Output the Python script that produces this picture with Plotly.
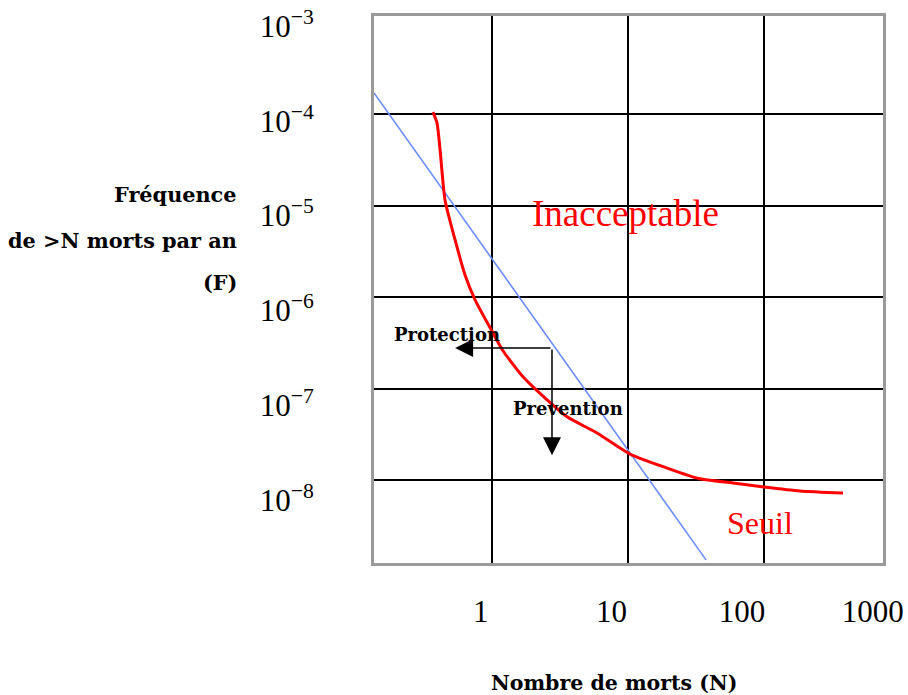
import numpy as np
import plotly.graph_objects as go

# ---------------- data ----------------
# Courbe "Seuil" (nombre de morts N, fréquence F)
N_seuil = [0.368, 0.394, 0.415, 0.451, 0.535, 0.633, 0.750, 1.02, 1.20, 1.69,
           2.54, 3.56, 5.91, 10.35, 19.4, 33.8, 59.2, 100, 184, 381]
F_seuil = [1.05e-4, 7.97e-5, 4.04e-5, 1.15e-5, 4.2e-6, 1.74e-6, 9.3e-7, 4.0e-7,
           2.6e-7, 1.34e-7, 7.5e-8, 4.9e-8, 3.27e-8, 1.92e-8, 1.35e-8, 1.03e-8,
           9.3e-9, 8.4e-9, 7.6e-9, 7.2e-9]

# Droite bleue
N_droite = [0.1355, 37.5]
F_droite = [1.7e-4, 1.34e-9]

# Flèches protection / prévention (coin, pointes)
N_coin, F_coin = 2.76, 2.77e-7
N_protection = 0.535
F_prevention = 1.87e-8

# Graduations
x_grid = [1, 10, 100]
y_grid = [1e-4, 1e-5, 1e-6, 1e-7, 1e-8]
x_tick_vals = [1, 10, 100, 1000]
x_tick_text = ["1", "10", "100", "1000"]
y_tick_vals = [1e-3, 1e-4, 1e-5, 1e-6, 1e-7, 1e-8]
y_tick_text = ["10<sup>\u22123</sup>", "10<sup>\u22124</sup>", "10<sup>\u22125</sup>",
               "10<sup>\u22126</sup>", "10<sup>\u22127</sup>", "10<sup>\u22128</sup>"]

# ---------------- figure ----------------
SERIF = "Liberation Serif, Times New Roman, serif"
BOLD = "DejaVu Serif, serif"

fig = go.Figure()
fig.add_trace(go.Scatter(x=N_droite, y=F_droite, mode="lines",
                         line=dict(color="#6b8cff", width=1.6), hoverinfo="skip",
                         showlegend=False))
fig.add_trace(go.Scatter(x=N_seuil, y=F_seuil, mode="lines",
                         line=dict(color="#ff0000", width=3, shape="spline", smoothing=0.6),
                         hoverinfo="skip", showlegend=False))
# invisible trace to activate the label axes
fig.add_trace(go.Scatter(x=[1], y=[1e-5], xaxis="x2", yaxis="y2", mode="markers",
                         marker=dict(opacity=0), hoverinfo="skip", showlegend=False))

lx = np.log10
fig.add_annotation(x=lx(N_protection), y=lx(F_coin), ax=lx(N_coin), ay=lx(F_coin),
                   xref="x", yref="y", axref="x", ayref="y", text="", showarrow=True,
                   arrowhead=2, arrowsize=2.4, arrowwidth=1.5, arrowcolor="black")
fig.add_annotation(x=lx(N_coin), y=lx(F_prevention), ax=lx(N_coin), ay=lx(F_coin),
                   xref="x", yref="y", axref="x", ayref="y", text="", showarrow=True,
                   arrowhead=2, arrowsize=2.4, arrowwidth=1.5, arrowcolor="black")

fig.add_annotation(x=-0.331, y=-6.415, xref="x", yref="y", text="<b>Protection</b>",
                   showarrow=False, font=dict(family=BOLD, size=18, color="black"))
fig.add_annotation(x=0.559, y=-7.213, xref="x", yref="y", text="<b>Prevention</b>",
                   showarrow=False, font=dict(family=BOLD, size=18, color="black"))
fig.add_annotation(x=0.985, y=-5.082, xref="x", yref="y", text="Inacceptable",
                   showarrow=False, font=dict(family=SERIF, size=37, color="#ff0000"))
fig.add_annotation(x=1.971, y=-8.470, xref="x", yref="y", text="Seuil",
                   showarrow=False, font=dict(family=SERIF, size=32, color="#ff0000"))

for txt, py in [("Fréquence", 0.673), ("de >N morts par an", 0.589), ("(F)", 0.512)]:
    fig.add_annotation(x=-0.265, y=py, xref="paper", yref="paper", xanchor="right",
                       yanchor="middle", text="<b>" + txt + "</b>", showarrow=False,
                       font=dict(family=BOLD, size=20.8, color="black"))
fig.add_annotation(x=0.4715, y=-0.219, xref="paper", yref="paper", xanchor="center",
                   yanchor="middle", text="<b>Nombre de morts (N)</b>", showarrow=False,
                   font=dict(family=BOLD, size=20.5, color="black"))

fig.update_layout(
    width=908, height=695,
    margin=dict(l=374, r=25, t=16, b=132, autoexpand=False),
    paper_bgcolor="white", plot_bgcolor="white",
    xaxis=dict(type="log", range=[-0.868, 2.875], tickvals=x_grid, showticklabels=False,
               showgrid=True, gridcolor="black", gridwidth=1.6, zeroline=False,
               showline=True, linecolor="#9a9a9a", linewidth=2.5, mirror=True, ticks="",
               automargin=False),
    yaxis=dict(type="log", range=[-8.907, -2.929], tickvals=y_grid, showticklabels=False,
               showgrid=True, gridcolor="black", gridwidth=1.6, zeroline=False,
               showline=True, linecolor="#9a9a9a", linewidth=2.5, mirror=True, ticks="",
               automargin=False),
    xaxis2=dict(type="log", range=[-0.816, 3.078], overlaying="x", side="bottom",
                anchor="y", tickvals=x_tick_vals, ticktext=x_tick_text,
                showgrid=False, zeroline=False, showline=False, automargin=False,
                ticklabeloverflow="allow",
                ticks="outside", ticklen=21, tickcolor="rgba(0,0,0,0)",
                tickfont=dict(family=SERIF, size=31, color="black")),
    yaxis2=dict(type="log", range=[-8.6646, -2.8945], overlaying="y", side="left",
                anchor="x", tickvals=y_tick_vals, ticktext=y_tick_text,
                showgrid=False, zeroline=False, showline=False, automargin=False,
                ticklabeloverflow="allow",
                ticks="outside", ticklen=53, tickcolor="rgba(0,0,0,0)",
                tickfont=dict(family=SERIF, size=31, color="black")),
)

# remove the default 8 px page margin so the figure fills the window exactly
fig.write_html("out.html", config={"displayModeBar": False},
               post_script="document.body.style.margin='0px';")
